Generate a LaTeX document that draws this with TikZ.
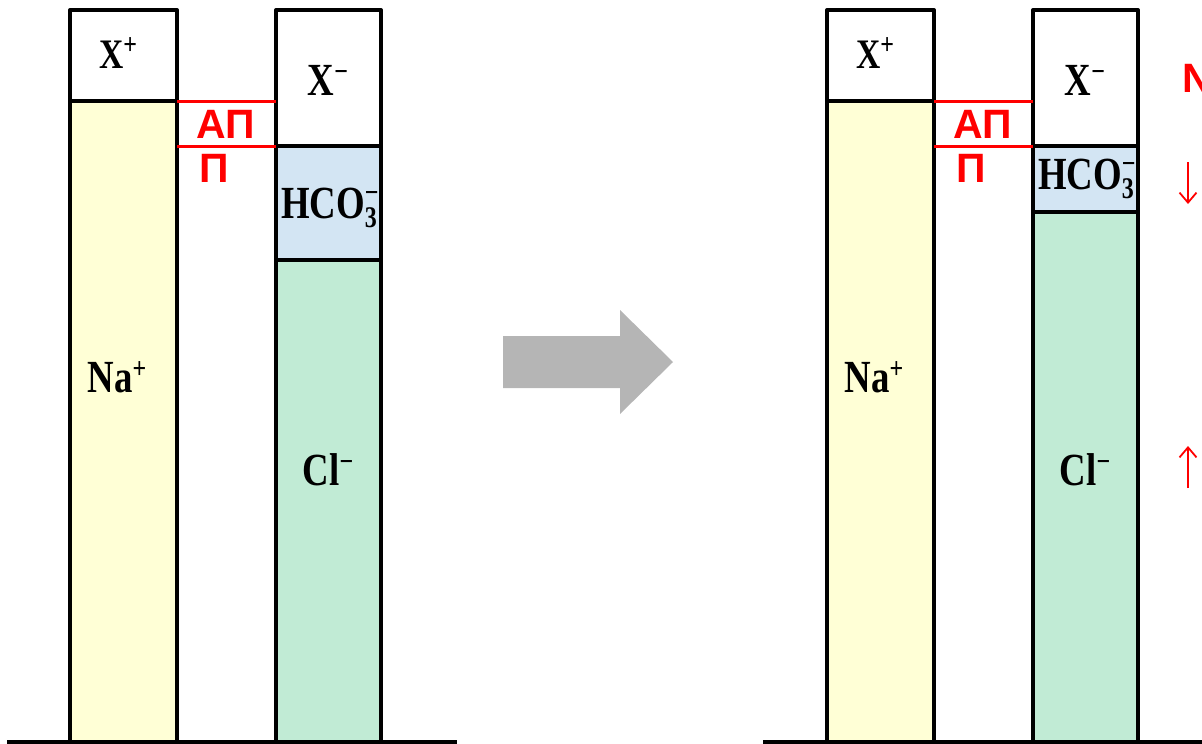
\documentclass[tikz,border=0pt]{standalone}
\usepackage{fontspec}
\setmainfont{Liberation Serif}
\newfontfamily\lblfont[FakeStretch=0.8]{Liberation Serif}
\newfontfamily\redfont{Liberation Sans}
\usetikzlibrary{arrows.meta}
\definecolor{naY}{RGB}{255,255,214}
\definecolor{hcoB}{RGB}{211,229,243}
\definecolor{clG}{RGB}{193,235,213}
\definecolor{arrG}{RGB}{181,181,181}
\newcommand\supx[2]{#1\raisebox{14pt}{\fontsize{30}{30}\selectfont #2}}
\newcommand\supsubx[3]{#1\rlap{\raisebox{16pt}{\fontsize{30}{30}\selectfont #2}}\raisebox{-9pt}{\fontsize{30}{30}\selectfont #3}}
\begin{document}
\begin{tikzpicture}[x=1pt,y=-1pt,
  col/.style={draw=black,line width=4pt,line join=round},
  sep/.style={draw=black,line width=4pt},
  ground/.style={draw=black,line width=3.5pt},
  redline/.style={draw=red,line width=3pt},
  ion/.style={anchor=base,inner sep=0pt,font=\lblfont\bfseries\fontsize{46}{46}\selectfont},
  redtxt/.style={anchor=base west,inner sep=0pt,text=red,font=\redfont\bfseries\fontsize{41}{41}\selectfont},
  chg/.style={draw=red,line width=1.8pt,-{Straight Barb[length=10pt,width=17pt,line width=1.8pt]}}]
\useasboundingbox (0,0) rectangle (1202,744);
\begin{scope}
\clip (0,0) rectangle (1202,744);
% ---------- left state ----------
\fill[naY] (70,101) rectangle (177,742);
\fill[hcoB] (276,146) rectangle (381,260);
\fill[clG] (276,260) rectangle (381,742);
\draw[col] (70,742) -- (70,10) -- (177,10) -- (177,742);
\draw[sep] (70,101) -- (177,101);
\draw[col] (276,742) -- (276,10) -- (381,10) -- (381,742);
\draw[sep] (276,146) -- (381,146);
\draw[sep] (276,260) -- (381,260);
\draw[redline] (177,101) -- (276,101);
\draw[redline] (177,146) -- (276,146);
\node[ion,font=\lblfont\bfseries\fontsize{42}{42}\selectfont] (xpL) at (118,68) {\supx{X}{+}};
\node[ion] (xmL) at (328,95) {\supx{X}{−}};
\node[ion] (hcoL) at (329,218) {\supsubx{HCO}{−}{3}};
\node[ion] (naL) at (117,392) {\supx{Na}{+}};
\node[ion] (clL) at (328,485) {\supx{Cl}{−}};
\node[redtxt] (apL) at (196,138) {АП};
\node[redtxt] (pL) at (199,182) {П};
\draw[ground] (7,742) -- (457,742);
% ---------- transition arrow ----------
\fill[arrG] (503,336) -- (620,336) -- (620,310) -- (673,362) -- (620,414) -- (620,388) -- (503,388) -- cycle;
% ---------- right state ----------
\begin{scope}[xshift=757pt]
\fill[naY] (70,101) rectangle (177,742);
\fill[hcoB] (276,146) rectangle (381,212);
\fill[clG] (276,212) rectangle (381,742);
\draw[col] (70,742) -- (70,10) -- (177,10) -- (177,742);
\draw[sep] (70,101) -- (177,101);
\draw[col] (276,742) -- (276,10) -- (381,10) -- (381,742);
\draw[sep] (276,146) -- (381,146);
\draw[sep] (276,212) -- (381,212);
\draw[redline] (177,101) -- (276,101);
\draw[redline] (177,146) -- (276,146);
\node[ion,font=\lblfont\bfseries\fontsize{42}{42}\selectfont] (xpR) at (118,68) {\supx{X}{+}};
\node[ion] (xmR) at (328,95) {\supx{X}{−}};
\node[ion] (hcoR) at (329,189) {\supsubx{HCO}{−}{3}};
\node[ion] (naR) at (117,392) {\supx{Na}{+}};
\node[ion] (clR) at (328,485) {\supx{Cl}{−}};
\node[redtxt] (apR) at (196,138) {АП};
\node[redtxt] (pR) at (199,182) {П};
\end{scope}
\draw[ground] (763,742) -- (1205,742);
\node[redtxt] (nR) at (1182,92) {N};
\coordinate (dnA) at (1188,162);
\coordinate (dnB) at (1188,204);
\draw[chg] (dnA) -- (dnB);
\coordinate (upA) at (1188,488);
\coordinate (upB) at (1188,446);
\draw[chg] (upA) -- (upB);
\end{scope}
\end{tikzpicture}
\end{document}
